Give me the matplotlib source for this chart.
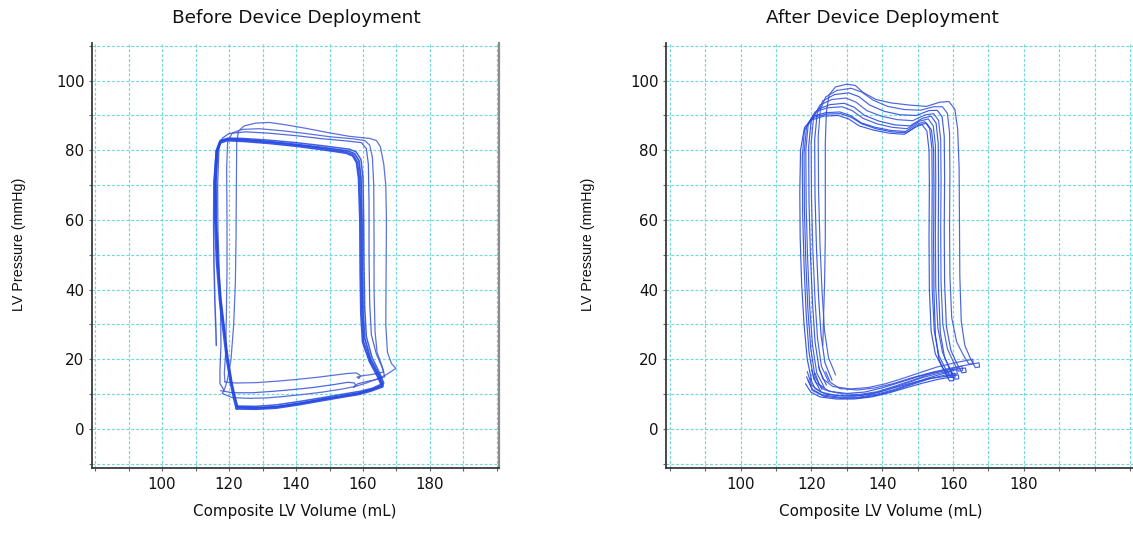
import matplotlib
matplotlib.use("Agg")
import matplotlib.pyplot as plt
import matplotlib.transforms as mtransforms
from matplotlib.ticker import FixedLocator

# ---------------------------------------------------------------------------
# Pressure-volume loops, (volume mL, pressure mmHg), one list per beat.
# Each beat runs: filling (bottom) -> isovolumic contraction (right)
# -> ejection (top) -> isovolumic relaxation (left).
# ---------------------------------------------------------------------------

# Before device deployment
before_beat_1 = [(122.3, 5.9), (128.0, 5.8), (134.0, 6.1), (141.0, 7.1), (148.0, 8.3), (154.0, 9.3),
                 (158.5, 10.0), (162.0, 10.9), (165.8, 12.2), (164.5, 15.0), (162.0, 19.5), (160.0, 25.0),
                 (159.5, 33.0), (159.3, 45.0), (159.2, 60.0), (158.8, 72.0), (158.2, 76.5), (157.0, 78.5),
                 (155.0, 79.3), (148.0, 80.3), (140.0, 81.3), (132.0, 82.1), (124.0, 82.7), (119.5, 82.9),
                 (117.3, 82.2), (116.3, 79.5), (115.8, 71.0), (115.9, 60.0), (116.4, 48.0), (117.3, 37.0),
                 (118.4, 28.0), (119.4, 20.0), (120.6, 13.0), (121.6, 8.5), (122.3, 5.9)]
before_beat_2 = [(122.6, 6.3), (128.0, 6.1), (134.0, 6.4), (141.0, 7.4), (148.0, 8.6), (154.5, 9.6),
                 (159.0, 10.4), (162.5, 11.3), (166.0, 12.6), (164.8, 15.5), (162.3, 20.0), (160.5, 26.0),
                 (160.0, 34.0), (159.8, 46.0), (159.7, 60.0), (159.4, 72.0), (158.8, 77.0), (157.5, 79.0),
                 (155.5, 79.8), (148.0, 80.8), (140.0, 81.7), (132.0, 82.5), (124.0, 83.1), (119.7, 83.2),
                 (117.5, 82.6), (116.6, 80.0), (116.1, 71.0), (116.2, 60.0), (116.7, 48.0), (117.6, 37.0),
                 (118.7, 28.0), (119.7, 20.0), (120.9, 13.0), (121.9, 8.8), (122.6, 6.3)]
before_beat_3 = [(117.5, 11.0), (121.0, 10.4), (127.0, 10.4), (133.0, 10.8), (139.0, 11.3), (145.0, 11.9),
                 (151.0, 12.7), (155.5, 13.4), (157.5, 13.2), (157.8, 12.3), (157.2, 12.0), (158.5, 13.0),
                 (161.0, 13.6), (164.0, 14.2), (166.5, 15.0), (165.8, 17.5), (164.0, 21.5), (162.5, 27.0),
                 (162.0, 36.0), (161.8, 50.0), (161.8, 65.0), (161.6, 76.0), (161.0, 80.5), (159.5, 82.2),
                 (156.0, 82.6), (148.0, 83.3), (140.0, 84.2), (132.0, 84.9), (125.0, 85.3), (120.0, 84.8),
                 (118.0, 83.5), (117.0, 80.5), (116.6, 70.0), (116.7, 57.0), (117.1, 45.0), (117.5, 33.0),
                 (117.6, 24.0), (117.3, 17.0), (117.3, 13.0), (118.5, 11.2)]
before_beat_4 = [(118.0, 10.2), (121.0, 9.0), (126.0, 8.8), (131.0, 8.9), (136.0, 9.3), (142.0, 9.9),
                 (148.0, 10.6), (154.0, 11.5), (158.0, 12.3), (161.0, 13.2), (164.0, 14.3), (167.0, 15.6),
                 (169.8, 17.4), (168.5, 18.8), (167.3, 22.0), (166.8, 30.0), (166.9, 45.0), (167.0, 60.0),
                 (166.8, 70.0), (166.2, 76.0), (165.2, 81.0), (164.0, 82.8), (162.0, 83.4), (156.0, 84.0),
                 (150.0, 85.0), (143.0, 86.3), (137.0, 87.3), (132.0, 88.0), (128.0, 87.8), (124.5, 87.0),
                 (122.8, 85.5), (122.3, 82.0), (122.2, 70.0), (122.1, 55.0), (121.9, 42.0), (121.4, 30.0),
                 (120.6, 20.0), (119.5, 14.0), (118.7, 11.5), (118.0, 10.2)]
before_beat_5 = [(118.8, 13.5), (122.0, 13.2), (128.0, 13.3), (134.0, 13.7), (140.0, 14.2), (146.0, 14.8),
                 (151.0, 15.4), (155.0, 15.9), (158.0, 16.1), (159.3, 15.3), (158.8, 14.5), (158.2, 14.9),
                 (160.0, 15.3), (163.0, 15.7), (166.2, 16.4), (165.5, 18.5), (164.2, 22.0), (163.6, 28.0),
                 (163.3, 40.0), (163.3, 55.0), (163.2, 70.0), (162.8, 78.0), (162.0, 81.5), (160.5, 82.8),
                 (157.0, 83.3), (150.0, 83.9), (143.0, 84.8), (136.0, 85.6), (129.0, 86.2), (124.0, 86.0),
                 (121.0, 85.0), (119.6, 82.5), (119.3, 75.0), (119.4, 60.0), (119.4, 45.0), (119.2, 32.0),
                 (119.0, 22.0), (118.6, 16.0), (118.8, 13.5)]
before_beat_6 = [(122.0, 6.6), (128.0, 6.5), (134.0, 6.9), (141.0, 7.9), (148.0, 9.0), (154.0, 10.0),
                 (159.0, 10.8), (162.8, 11.7), (166.2, 13.2), (165.0, 16.0), (162.7, 20.5), (161.0, 26.5),
                 (160.5, 35.0), (160.3, 47.0), (160.2, 60.0), (160.0, 72.0), (159.4, 77.3), (158.0, 79.5),
                 (156.0, 80.3), (148.0, 81.3), (140.0, 82.2), (132.0, 82.9), (124.0, 83.4), (119.8, 83.5),
                 (117.4, 82.9), (116.2, 80.0), (115.5, 71.0), (115.4, 60.0), (115.5, 48.0), (115.8, 36.0),
                 (116.1, 28.0), (116.2, 24.0)]

# After device deployment
after_beat_1 = [(118.6, 15.0), (120.2, 11.4), (123.0, 9.8), (128.0, 9.1), (133.0, 9.1), (138.0, 9.9),
                (143.0, 11.2), (148.0, 12.9), (152.5, 14.5), (156.5, 15.7), (159.5, 16.5), (159.7, 15.4),
                (158.6, 15.3), (157.0, 17.6), (155.0, 21.5), (153.8, 28.0), (153.3, 40.0), (153.2, 55.0),
                (153.3, 70.0), (153.2, 80.0), (152.6, 85.5), (151.2, 87.4), (149.2, 86.6), (146.2, 84.6),
                (142.0, 84.9), (137.5, 85.8), (133.5, 87.0), (130.5, 89.0), (127.5, 90.0), (123.5, 89.8),
                (120.0, 88.7), (118.0, 85.8), (117.4, 78.0), (117.5, 62.0), (117.9, 47.0), (118.5, 33.0),
                (119.3, 22.0), (120.6, 14.5), (122.5, 11.0)]
after_beat_2 = [(119.0, 14.0), (120.4, 11.0), (123.5, 9.4), (128.5, 8.8), (133.5, 8.9), (138.5, 9.7),
                (143.5, 11.1), (148.5, 12.8), (153.0, 14.3), (157.0, 15.3), (160.5, 16.0), (160.6, 14.9),
                (159.5, 14.8), (158.0, 17.0), (156.0, 21.0), (154.7, 28.0), (154.1, 40.0), (154.0, 55.0),
                (154.1, 70.0), (154.0, 80.5), (153.4, 86.2), (152.0, 88.2), (149.8, 87.5), (146.6, 85.4),
                (142.4, 85.7), (138.0, 86.6), (134.0, 87.9), (131.0, 90.0), (128.0, 91.0), (124.0, 90.8),
                (120.5, 89.8), (118.6, 86.8), (117.9, 79.0), (118.0, 63.0), (118.4, 48.0), (119.0, 34.0),
                (119.8, 23.0), (121.0, 15.0), (123.0, 11.3)]
after_beat_3 = [(118.8, 16.5), (120.0, 12.6), (122.6, 10.6), (127.0, 9.6), (132.0, 9.4), (137.0, 10.0),
                (142.0, 11.5), (147.0, 13.2), (151.5, 14.8), (156.0, 16.0), (161.0, 17.0), (161.2, 15.8),
                (160.0, 15.7), (158.8, 18.0), (157.0, 22.0), (155.7, 29.0), (155.1, 41.0), (155.0, 56.0),
                (155.1, 71.0), (155.0, 81.5), (154.4, 87.0), (153.0, 89.0), (150.6, 88.4), (147.0, 86.2),
                (142.8, 86.6), (138.5, 87.6), (134.5, 89.2), (131.5, 91.4), (128.6, 92.5), (124.5, 92.2),
                (121.0, 91.0), (119.1, 87.8), (118.4, 80.0), (118.5, 64.0), (118.9, 49.0), (119.5, 35.0),
                (120.3, 24.0), (121.5, 16.0), (123.6, 12.0)]
after_beat_4 = [(119.6, 14.6), (121.0, 11.6), (124.0, 10.0), (129.0, 9.5), (134.0, 9.7), (139.0, 10.6),
                (144.0, 12.0), (149.0, 13.4), (153.5, 14.5), (158.0, 15.1), (161.5, 15.5), (161.6, 14.4),
                (160.5, 14.3), (159.3, 16.5), (157.6, 20.5), (156.4, 27.5), (155.9, 40.0), (155.8, 55.0),
                (155.9, 70.0), (155.8, 82.0), (155.2, 87.8), (153.8, 89.8), (151.4, 89.2), (147.8, 87.0),
                (143.5, 87.3), (139.0, 88.4), (135.0, 90.0), (132.0, 92.4), (129.2, 93.5), (125.2, 93.1),
                (121.8, 91.8), (119.9, 88.6), (119.2, 81.0), (119.3, 65.0), (119.7, 50.0), (120.3, 36.0),
                (121.0, 25.0), (122.2, 17.0), (124.2, 12.6)]
after_beat_5 = [(120.0, 17.0), (121.2, 13.4), (123.8, 11.2), (128.5, 10.1), (133.5, 9.9), (138.5, 10.7),
                (143.5, 12.3), (148.5, 14.0), (153.0, 15.6), (158.0, 16.9), (162.5, 18.0), (162.7, 16.8),
                (161.5, 16.6), (160.2, 19.0), (158.4, 23.0), (157.1, 30.0), (156.6, 42.0), (156.5, 57.0),
                (156.6, 72.0), (156.5, 83.0), (155.9, 88.6), (154.5, 90.5), (152.2, 90.2), (148.6, 88.5),
                (144.2, 88.8), (139.7, 89.8), (135.6, 91.4), (132.6, 93.8), (129.8, 95.0), (125.8, 94.6),
                (122.4, 93.0), (120.6, 89.6), (119.9, 82.0), (120.0, 66.0), (120.4, 51.0), (121.0, 37.0),
                (121.7, 26.0), (122.8, 18.0), (124.8, 13.6)]
after_beat_6 = [(121.0, 16.0), (122.2, 12.8), (125.0, 10.8), (130.0, 10.2), (135.0, 10.6), (140.0, 11.8),
                (145.0, 13.4), (150.0, 15.0), (154.5, 16.2), (159.0, 17.0), (163.5, 17.5), (163.7, 16.3),
                (162.5, 16.1), (161.2, 18.5), (159.4, 22.5), (158.1, 29.5), (157.6, 42.0), (157.5, 57.0),
                (157.6, 72.0), (157.5, 84.0), (156.9, 89.6), (155.5, 91.5), (153.2, 91.4), (149.6, 90.0),
                (145.0, 90.2), (140.5, 91.2), (136.4, 93.0), (133.4, 95.4), (130.5, 96.5), (126.5, 96.0),
                (123.2, 94.2), (121.6, 90.6), (120.9, 83.0), (121.0, 67.0), (121.4, 52.0), (122.0, 38.0),
                (122.7, 27.0), (123.8, 19.0), (125.8, 14.0)]
after_beat_7 = [(122.0, 18.0), (123.2, 14.4), (126.0, 12.2), (131.0, 11.5), (136.0, 11.9), (141.0, 13.0),
                (146.0, 14.6), (151.0, 16.3), (155.5, 17.8), (160.5, 19.0), (165.5, 20.0), (165.7, 18.8),
                (164.5, 18.6), (163.0, 21.0), (161.0, 25.0), (159.6, 32.0), (159.1, 44.0), (159.0, 59.0),
                (159.1, 73.0), (159.0, 85.0), (158.4, 90.6), (157.0, 92.5), (154.5, 92.5), (150.8, 91.5),
                (146.2, 91.7), (141.5, 92.6), (137.4, 94.4), (134.2, 96.7), (131.2, 97.8), (127.2, 97.2),
                (124.0, 95.3), (122.5, 91.6), (121.9, 84.0), (122.0, 68.0), (122.4, 53.0), (123.0, 39.0),
                (123.7, 28.0), (124.8, 20.5), (126.8, 15.5)]
after_beat_8 = [(124.0, 16.5), (125.3, 13.4), (128.0, 11.6), (133.0, 11.2), (138.0, 11.8), (143.0, 13.0),
                (148.0, 14.6), (153.0, 16.0), (158.0, 17.2), (163.0, 18.2), (167.3, 19.0), (167.5, 17.8),
                (166.3, 17.6), (165.0, 20.0), (163.3, 24.0), (162.3, 31.0), (161.9, 44.0), (161.8, 60.0),
                (161.7, 75.0), (161.3, 86.0), (160.5, 91.8), (158.8, 94.0), (156.2, 93.8), (152.5, 92.6),
                (147.5, 93.0), (142.5, 93.6), (138.2, 94.6), (134.6, 96.6), (132.4, 98.6), (130.0, 99.0),
                (126.8, 98.2), (125.0, 96.0), (124.2, 91.0), (123.9, 82.0), (123.9, 68.0), (123.9, 55.0),
                (123.7, 42.0), (123.4, 32.0), (123.2, 24.0)]
after_beat_9 = [(118.3, 13.0), (119.8, 10.6), (122.4, 9.2), (127.0, 8.6), (132.0, 8.6), (137.0, 9.2),
                (142.0, 10.4), (147.0, 11.9), (151.5, 13.2), (156.0, 14.3), (160.0, 15.0), (160.2, 13.9),
                (159.0, 13.8), (157.8, 16.0), (156.0, 20.0), (155.0, 27.0), (154.6, 39.0), (154.5, 54.0),
                (154.6, 69.0), (154.5, 80.0), (153.9, 85.8), (152.5, 87.8), (150.2, 87.2), (146.8, 85.0),
                (142.6, 85.3), (138.2, 86.2), (134.2, 87.6), (131.2, 89.5), (128.2, 90.5), (124.2, 90.4),
                (120.4, 89.4), (118.0, 86.5), (116.9, 80.0), (116.7, 68.0), (116.8, 55.0), (117.2, 42.0),
                (117.9, 30.0), (118.8, 20.0), (120.0, 14.0)]

# Axis text and ticks
panel_titles = ["Before Device Deployment", "After Device Deployment"]
x_label = "Composite LV Volume (mL)"
y_label = "LV Pressure (mmHg)"
x_tick_values = [100, 120, 140, 160, 180]
y_tick_values = [0, 20, 40, 60, 80, 100]

before_beats = [before_beat_4, before_beat_5, before_beat_3, before_beat_6, before_beat_2, before_beat_1]
after_beats = [after_beat_8, after_beat_7, after_beat_6, after_beat_5, after_beat_4,
               after_beat_3, after_beat_2, after_beat_9, after_beat_1]

# ---------------------------------------------------------------------------
FIG_W, FIG_H = 1133, 539
fig = plt.figure(figsize=(FIG_W / 100, FIG_H / 100), dpi=100)
fig.patch.set_facecolor("white")


def add_axes_px(left, right, top, bottom):
    return fig.add_axes([left / FIG_W, 1 - bottom / FIG_H,
                         (right - left) / FIG_W, (bottom - top) / FIG_H])


GRID = "#74d7db"
TEXT = "#111111"
LOOP = "#2347e2"

ax_before = add_axes_px(92, 499, 43, 468)
ax_after = add_axes_px(666, 1140, 43, 468)
ax_before.set_xlim(79.1, 200.6)
ax_after.set_xlim(78.9, 212.8)


def style_axes(ax, grid_xmax):
    ax.set_facecolor("white")
    ax.set_ylim(-11.2, 110.8)
    ax.xaxis.set_major_locator(FixedLocator(x_tick_values))
    ax.xaxis.set_minor_locator(FixedLocator(list(range(80, grid_xmax + 1, 10))))
    ax.yaxis.set_major_locator(FixedLocator(y_tick_values))
    ax.yaxis.set_minor_locator(FixedLocator(list(range(-10, 111, 10))))
    ax.grid(which="both", color=GRID, lw=0.85, ls=(0, (2.5, 1.6)))
    ax.set_axisbelow(True)
    ax.tick_params(which="both", direction="out", length=2.5, width=0.8,
                   color="#666666", labelcolor=TEXT, labelsize=10.8)
    ax.tick_params(axis="y", pad=3)
    ax.tick_params(axis="x", pad=4)
    for lab in ax.get_xticklabels() + ax.get_yticklabels():
        lab.set_fontfamily("DejaVu Sans")
    ax.spines["top"].set_visible(False)
    ax.spines["left"].set_color("#3a3a3a")
    ax.spines["bottom"].set_color("#3a3a3a")
    ax.spines["left"].set_linewidth(1.3)
    ax.spines["bottom"].set_linewidth(1.3)
    ax.spines["right"].set_color("#8c8c8c")
    ax.spines["right"].set_linewidth(1.6)


style_axes(ax_before, 200)
style_axes(ax_after, 210)


def draw_beats(ax, beats, widths, colors):
    for beat, lw, col in zip(beats, widths, colors):
        vol, pres = zip(*beat)
        ax.plot(vol, pres, color=col, lw=lw, solid_joinstyle="round",
                solid_capstyle="round", alpha=0.9)


draw_beats(ax_before, before_beats,
           [0.9, 0.9, 0.9, 1.1, 1.3, 1.9],
           ["#4a62d8", "#4a62d8", "#3d58dc", "#2f50e0", LOOP, LOOP])
draw_beats(ax_after, after_beats,
           [0.85] * 9,
           ["#3553dc", "#3d58dc", "#2a4ce0", "#3d58dc", "#2a4ce0",
            "#3553dc", "#2a4ce0", "#2347e2", "#2a4ce0"])


def label_panel(ax, title, ylab_x_px):
    trans = mtransforms.blended_transform_factory(ax.transData, ax.transAxes)
    ax.text(140, 1.0, title, transform=mtransforms.offset_copy(trans, fig=fig, y=20, units="dots"),
            ha="center", va="baseline", fontsize=13.3, color=TEXT, family="DejaVu Sans")
    ax.text(139.5, 0.0, x_label, transform=mtransforms.offset_copy(trans, fig=fig, y=-48, units="dots"),
            ha="center", va="baseline", fontsize=10.9, color=TEXT, family="DejaVu Sans")
    fig.text(ylab_x_px / FIG_W, 1 - 244 / FIG_H, y_label, rotation=90, ha="center", va="center",
             fontsize=10.3, color=TEXT, family=["Liberation Sans Narrow", "Liberation Sans", "DejaVu Sans"])


label_panel(ax_before, panel_titles[0], 19)
label_panel(ax_after, panel_titles[1], 588)

fig.savefig("out.png", dpi=100, facecolor="white")
